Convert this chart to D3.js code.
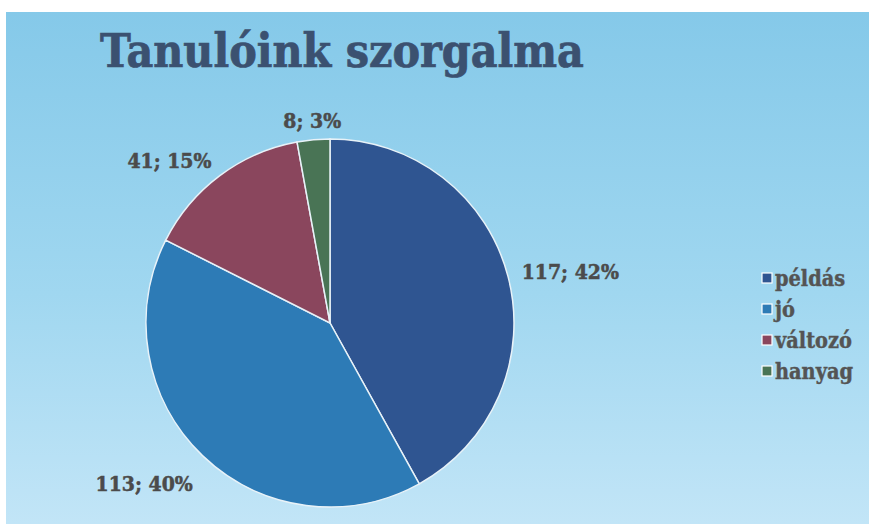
<!DOCTYPE html>
<html><head><meta charset="utf-8">
<script src="https://cdn.jsdelivr.net/npm/d3@7"></script>
<style>
html,body{margin:0;padding:0;background:#fff;}
svg{display:block;}
</style></head>
<body>
<script>
const categories = ["példás", "jó", "változó", "hanyag"];
const values = [117, 113, 41, 8];
const percents = ["42%", "40%", "15%", "3%"];
const colors = ["#2F5591", "#2D7BB6", "#8A465D", "#497455"];
const title = "Tanulóink szorgalma";

const W = 869, H = 524;
const svg = d3.select("body").append("svg").attr("width", W).attr("height", H);

const defs = svg.append("defs");
const grad = defs.append("linearGradient").attr("id", "bg").attr("x1", 0).attr("y1", 0).attr("x2", 0).attr("y2", 1);
grad.append("stop").attr("offset", "0%").attr("stop-color", "#85C9E9");
grad.append("stop").attr("offset", "55%").attr("stop-color", "#A0D7F0");
grad.append("stop").attr("offset", "100%").attr("stop-color", "#C2E5F7");

svg.append("rect").attr("x", 6).attr("y", 12).attr("width", W - 6).attr("height", H - 12).attr("fill", "url(#bg)");

const serif = "'DejaVu Serif', 'Liberation Serif', serif";

svg.append("text").attr("x", 100).attr("y", 67)
  .attr("font-family", serif).attr("font-weight", "bold").style("font-stretch", "condensed")
  .attr("font-size", 46).attr("fill", "#3B5170")
  .attr("stroke", "#3B5170").attr("stroke-width", 0.7)
  .text(title);

const cx = 330, cy = 323, R = 184;
const g = svg.append("g").attr("transform", `translate(${cx},${cy})`);
const pie = d3.pie().sort(null).value(d => d)(values);
const arc = d3.arc().innerRadius(0).outerRadius(R);

g.selectAll("path.slice").data(pie).join("path").attr("class", "slice")
  .attr("d", arc).attr("fill", (d, i) => colors[i])
  .attr("stroke", "#E8F2F8").attr("stroke-width", 1.5);

g.selectAll("text.lbl").data(pie).join("text").attr("class", "lbl")
  .each(function(d, i) {
    const a = (d.startAngle + d.endAngle) / 2;
    const s = Math.sin(a), c = Math.cos(a);
    const r = R + 14;
    let x = r * s, y = -r * c;
    y += c < 0 ? -c * 25 : -c * 5;
    const anchor = Math.abs(s) < 0.3 ? "middle" : (s > 0 ? "start" : "end");
    d3.select(this).attr("x", x).attr("y", y).attr("dy", "0.35em")
      .attr("text-anchor", anchor)
      .text(values[i] + "; " + percents[i]);
  })
  .attr("font-family", serif).attr("font-weight", "bold").style("font-stretch", "condensed")
  .attr("font-size", 21).attr("fill", "#4B4B4B")
  .attr("stroke", "#4B4B4B").attr("stroke-width", 0.5);

const leg = svg.append("g").attr("transform", "translate(762,278)");
const rows = leg.selectAll("g").data(categories).join("g")
  .attr("transform", (d, i) => `translate(0,${i * 31})`);
rows.append("rect").attr("x", 0).attr("y", -5).attr("width", 10).attr("height", 10)
  .attr("fill", (d, i) => colors[i]).attr("stroke", "#ffffff").attr("stroke-width", 1.2);
rows.append("text").attr("x", 13).attr("y", 0).attr("dy", "0.35em")
  .attr("font-family", serif).attr("font-weight", "bold").style("font-stretch", "condensed")
  .attr("font-size", 21.5).attr("fill", "#545454")
  .attr("stroke", "#545454").attr("stroke-width", 0.4)
  .text(d => d);
</script>
</body></html>
